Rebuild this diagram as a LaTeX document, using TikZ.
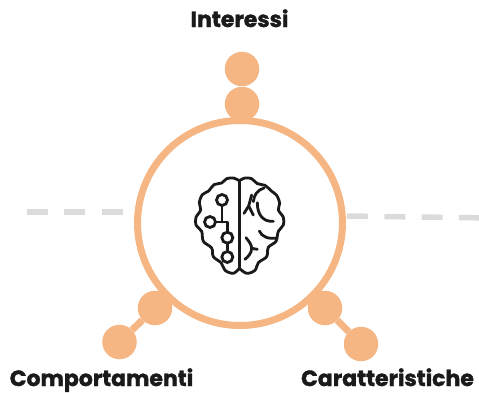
\documentclass[tikz,border=0pt]{standalone}
\usepackage{fontspec}
\setmainfont{Poppins}[BoldFeatures={FakeBold=1.6}]
\definecolor{peach}{HTML}{F5B684}
\definecolor{dashgrey}{HTML}{DBDBDB}
\definecolor{ink}{HTML}{1A1A1A}
\tikzset{
  dot/.style={circle,fill=peach,draw=none,minimum size=34.5pt,inner sep=0pt},
  link/.style={draw=peach,line width=7pt},
  ringline/.style={circle,draw=peach,line width=7pt,fill=white,minimum size=205pt,inner sep=0pt},
  guide/.style={draw=dashgrey,line width=5.5pt,dash pattern=on 21pt off 16.3pt},
  lbl/.style={font=\bfseries\fontsize{22}{24}\selectfont,text=ink,anchor=base,inner sep=0pt},
  brainline/.style={draw=ink,line width=2.8pt,line cap=round,line join=round},
  gate/.style={circle,draw=ink,line width=2.8pt,fill=white,minimum size=11pt,inner sep=0pt}
}
\begin{document}
\begin{tikzpicture}[x=1pt,y=-1pt]
\useasboundingbox (0,0) rectangle (479,392);
\coordinate (lA) at (27,212);
\coordinate (lB) at (131,212);
\coordinate (rA) at (347,216);
\coordinate (rB) at (479,217.8);
\draw[guide] (lA) -- (lB);
\draw[guide] (rA) -- (rB);
\node[dot] (t2) at (242,69) {};
\node[dot] (t1) at (242,104) {};
\node[dot] (l1) at (155,308) {};
\node[dot] (l2) at (119.5,342) {};
\node[dot] (r1) at (325,308) {};
\node[dot] (r2) at (361,344) {};
\draw[link] (l1) -- (l2);
\draw[link] (r1) -- (r2);
\node[ringline] (ring) at (240,223) {};
\begin{scope}[shift={(170,160)},x=0.3333pt,y=-0.3333pt]
\draw[brainline] plot[smooth,tension=0.55] coordinates {(208,62) (190,54) (170,56) (155,69) (132,74) (116,93) (97,104) (88,128) (92,150) (78,172) (78,195) (95,214) (100,244) (125,264) (130,290) (154,309) (165,331) (190,340) (208,325)};
\draw[brainline] plot[smooth,tension=0.55] coordinates {(208,62) (225,54) (245,56) (262,71) (285,76) (304,93) (320,106) (329,130) (325,150) (340,172) (340,195) (325,214) (318,244) (295,262) (290,290) (265,308) (255,331) (230,340) (208,325)};
\draw[brainline] (208,62) -- (208,325);
\node[gate] (g1) at (156,120) {};
\node[gate] (g2) at (120,186) {};
\node[gate] (g3) at (172,233) {};
\node[gate] (g4) at (172,291) {};
\draw[brainline] (g1) -- (156,186);
\draw[brainline] (g2) -- (172,186) -- (g3);
\draw[brainline] (g3) -- (g4);
\draw[brainline] (245,105) -- (236,138) -- (222,160);
\draw[brainline] (236,138) -- (250,165);
\draw[brainline] (250,125) .. controls (252,105) and (262,90) .. (282,84);
\draw[brainline] (262,128) .. controls (262,165) and (280,186) .. (310,184);
\draw[brainline] (268,213) .. controls (275,230) and (295,238) .. (320,234);
\draw[brainline] (228,233) .. controls (238,245) and (245,255) .. (245,265) .. controls (245,278) and (235,290) .. (225,298);
\draw[brainline] (245,265) -- (262,268);
\end{scope}
\node[lbl] (n1) at (239.5,27) {Interessi};
\node[lbl] (n2) at (101.5,386) {Comportamenti};
\node[lbl] (n3) at (387.5,386) {Caratteristiche};
\end{tikzpicture}
\end{document}
